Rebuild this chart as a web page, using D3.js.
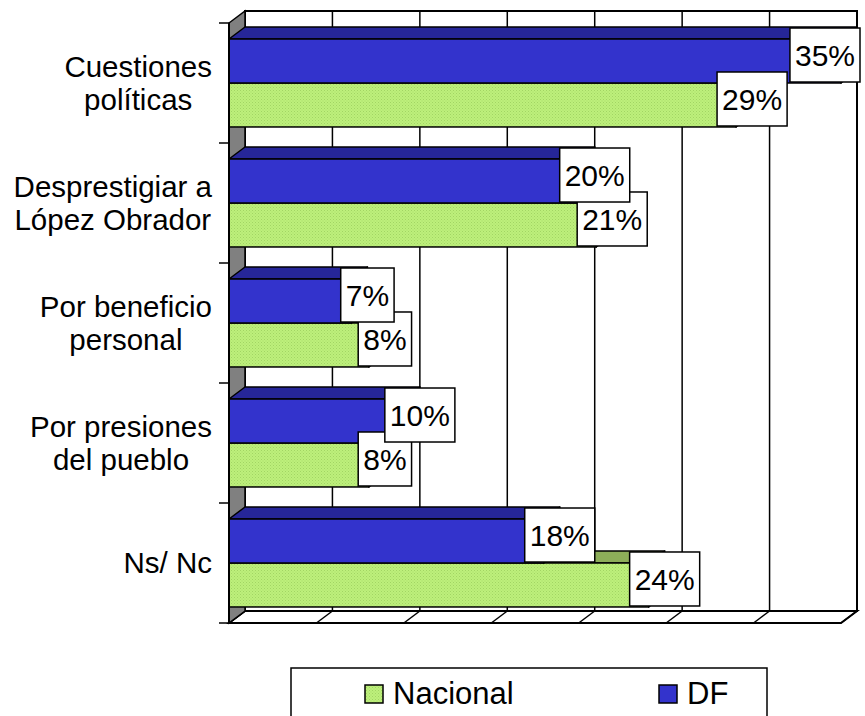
<!DOCTYPE html>
<html>
<head>
<meta charset="utf-8">
<script src="https://cdn.jsdelivr.net/npm/d3@7"></script>
<style>
  html, body { margin: 0; padding: 0; background: #fff; }
  svg { display: block; }
  text { font-family: "Liberation Sans", Arial, sans-serif; fill: #000; }
</style>
</head>
<body>
<svg id="chart" width="865" height="716"></svg>
<script>
// ---- data ----
const categories = ["Cuestiones\npolíticas", "Desprestigiar a\nLópez Obrador", "Por beneficio\npersonal", "Por presiones\ndel pueblo", "Ns/ Nc"];
const seriesNames = ["DF", "Nacional"];
const dfValues = [35, 20, 7, 10, 18];
const nacionalValues = [29, 21, 8, 8, 24];
const xTicks = [0, 5, 10, 15, 20, 25, 30, 35];
const legendOrder = ["Nacional", "DF"];

// ---- drawing ----
const svg = d3.select("#chart");
const W = 865;
const depthX = 16, depthY = -12;

const x = d3.scaleLinear().domain([0, 35]).range([229, 841]);
const y = d3.scaleBand().domain(categories).range([23, 623]).paddingInner(0.267).paddingOuter(0.1335);
const ySub = d3.scaleBand().domain(seriesNames).range([0, y.bandwidth()]);

const colors = {
  DF: { front: "#3333CC", top: "#262699", side: "#1a1a73" },
  Nacional: { front: "url(#dots)", top: "#8DAE59", side: "#6f8c45" }
};

const defs = svg.append("defs");
const pat = defs.append("pattern").attr("id", "dots").attr("patternUnits", "userSpaceOnUse")
  .attr("width", 3).attr("height", 3);
pat.append("rect").attr("width", 3).attr("height", 3).attr("fill", "#BDF07B");
pat.append("rect").attr("x", 0).attr("y", 0).attr("width", 1).attr("height", 1).attr("fill", "#A2D464");
pat.append("rect").attr("x", 1.5).attr("y", 1.5).attr("width", 1).attr("height", 1).attr("fill", "#A8DA6A");

const y0 = 23, y1 = 623;
const xL = x(0), xR = x(35);

// floor
svg.append("path")
  .attr("d", `M${xL},${y1}L${xR},${y1}L${xR + depthX},${y1 + depthY}L${xL + depthX},${y1 + depthY}Z`)
  .attr("fill", "#fff").attr("stroke", "#000").attr("stroke-width", 2);
svg.selectAll("line.floorTick").data(xTicks).join("line")
  .attr("x1", d => x(d)).attr("y1", y1)
  .attr("x2", d => x(d) + depthX).attr("y2", y1 + depthY)
  .attr("stroke", "#000").attr("stroke-width", 1.5);

// back wall
svg.append("rect")
  .attr("x", xL + depthX).attr("y", y0 + depthY)
  .attr("width", xR - xL).attr("height", y1 - y0)
  .attr("fill", "#fff").attr("stroke", "#000").attr("stroke-width", 2);
svg.selectAll("line.grid").data(xTicks).join("line")
  .attr("x1", d => x(d) + depthX).attr("x2", d => x(d) + depthX)
  .attr("y1", y0 + depthY).attr("y2", y1 + depthY)
  .attr("stroke", "#000").attr("stroke-width", 1.5);

// left side wall
svg.append("path")
  .attr("d", `M${xL},${y0}L${xL + depthX},${y0 + depthY}L${xL + depthX},${y1 + depthY}L${xL},${y1}Z`)
  .attr("fill", "#808080").attr("stroke", "#000").attr("stroke-width", 1.5);

// bars
const rows = [];
categories.forEach((c, i) => {
  rows.push({ cat: c, series: "Nacional", value: nacionalValues[i] });
  rows.push({ cat: c, series: "DF", value: dfValues[i] });
});

const barG = svg.append("g");
rows.forEach(r => {
  const top = y(r.cat) + ySub(r.series);
  const h = ySub.bandwidth();
  const xa = x(0), xb = x(r.value);
  const col = colors[r.series];
  const g = barG.append("g");
  g.append("path")
    .attr("d", `M${xa},${top}L${xb},${top}L${xb + depthX},${top + depthY}L${xa + depthX},${top + depthY}Z`)
    .attr("fill", col.top).attr("stroke", "#000").attr("stroke-width", 1.5).attr("stroke-linejoin", "round");
  g.append("path")
    .attr("d", `M${xb},${top}L${xb + depthX},${top + depthY}L${xb + depthX},${top + h + depthY}L${xb},${top + h}Z`)
    .attr("fill", col.side).attr("stroke", "#000").attr("stroke-width", 1.5).attr("stroke-linejoin", "round");
  g.append("rect")
    .attr("x", xa).attr("y", top).attr("width", xb - xa).attr("height", h)
    .attr("fill", col.front).attr("stroke", "#000").attr("stroke-width", 1.5);
});

// left axis line + ticks
svg.append("line").attr("x1", xL).attr("x2", xL).attr("y1", y0).attr("y2", y1)
  .attr("stroke", "#000").attr("stroke-width", 2);
const bounds = categories.map(c => y(c) - y.step() * y.paddingInner() / 2).concat([y1]);
bounds[0] = y0;
svg.selectAll("line.ytick").data(bounds).join("line")
  .attr("x1", xL - 10).attr("x2", xL).attr("y1", d => d).attr("y2", d => d)
  .attr("stroke", "#000").attr("stroke-width", 1.5);

// category labels
const catG = svg.append("g");
categories.forEach(c => {
  const lines = c.split("\n");
  const cy = y(c) + y.bandwidth() / 2;
  const lh = 33;
  const tg = catG.append("g");
  const texts = lines.map((ln, k) => tg.append("text")
    .attr("font-size", 29.5)
    .attr("text-anchor", "middle")
    .attr("y", cy + (k - (lines.length - 1) / 2) * lh + 10)
    .text(ln));
  const maxW = d3.max(texts, t => t.node().getComputedTextLength());
  const cx = 212 - maxW / 2;
  texts.forEach(t => t.attr("x", cx));
});

// value labels
const labG = svg.append("g");
const placed = [];
rows.forEach(r => {
  const top = y(r.cat) + ySub(r.series);
  const h = ySub.bandwidth();
  const cx0 = x(r.value) + depthX;
  const cy = top + h / 2 + depthY / 2;
  const g = labG.append("g");
  const rect = g.append("rect").attr("fill", "#fff").attr("stroke", "#000").attr("stroke-width", 1.5);
  const t = g.append("text").attr("font-size", 30).attr("text-anchor", "middle").text(r.value + "%");
  const tw = t.node().getComputedTextLength();
  const bw = tw + 10, bh = 54;
  let cx = cx0;
  if (cx + bw / 2 > W - 5) cx = W - 5 - bw / 2;
  rect.attr("x", cx - bw / 2).attr("y", cy - bh / 2).attr("width", bw).attr("height", bh);
  t.attr("x", cx).attr("y", cy + 11);
});

// legend
const lg = svg.append("g");
lg.append("rect").attr("x", 291).attr("y", 668).attr("width", 476).attr("height", 80)
  .attr("fill", "#fff").attr("stroke", "#000").attr("stroke-width", 1.5);
const legendX = d3.scalePoint().domain(legendOrder).range([365, 659]);
legendOrder.forEach(s => {
  const lx = legendX(s);
  lg.append("rect").attr("x", lx).attr("y", 685).attr("width", 18).attr("height", 18)
    .attr("fill", colors[s].front).attr("stroke", "#000").attr("stroke-width", 1.5);
  lg.append("text").attr("x", lx + 28).attr("y", 704).attr("font-size", 31).text(s);
});
</script>
</body>
</html>
